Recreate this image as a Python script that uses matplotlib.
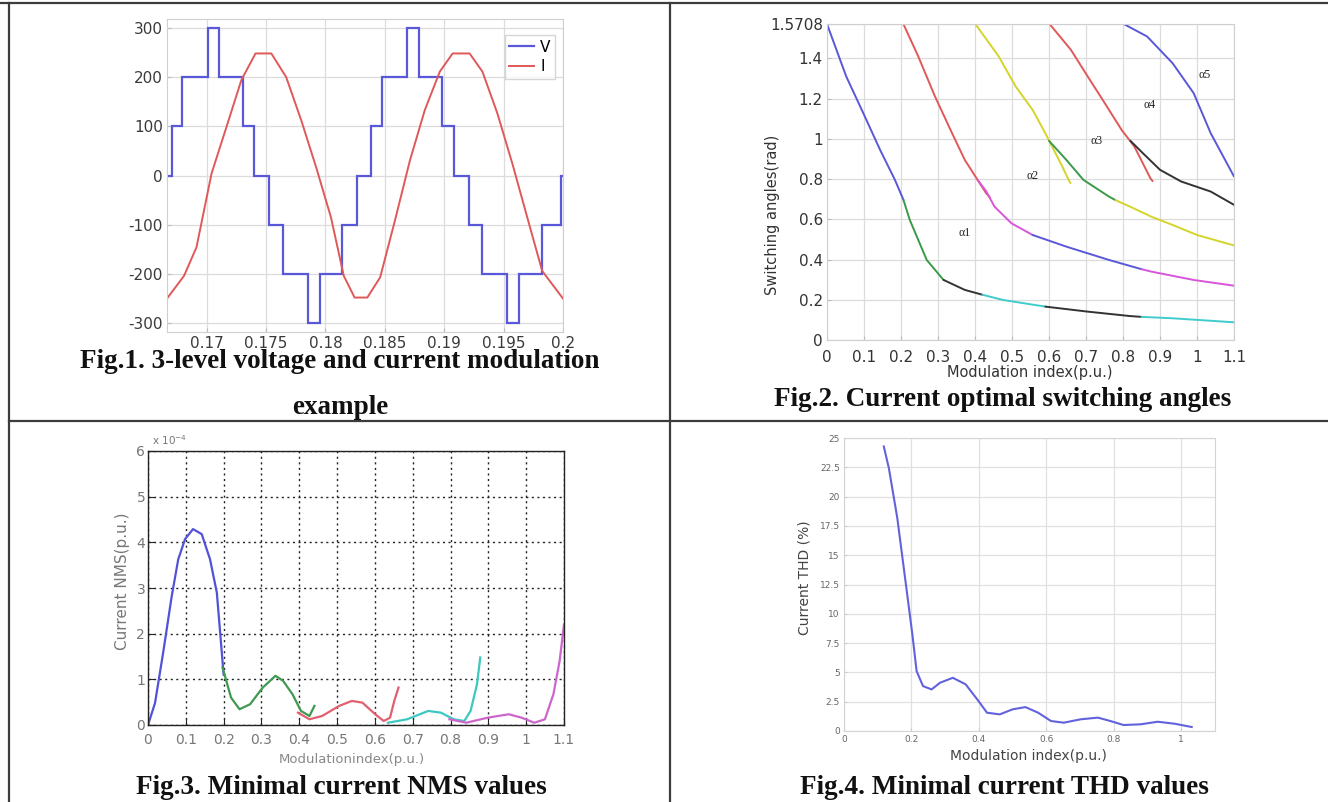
import numpy as np
import matplotlib
matplotlib.use("Agg")
import matplotlib.pyplot as plt
from matplotlib.lines import Line2D

plt.rcParams['axes.unicode_minus'] = False

# ---- Fig.1: staircase voltage and current ----
v_edges = [0.16667, 0.1671, 0.16797, 0.17008, 0.17107, 0.17304, 0.17401, 0.17527,
           0.17642, 0.17850, 0.17958, 0.18144, 0.18263, 0.18380, 0.18475, 0.18685,
           0.18785, 0.18978, 0.19085, 0.19205, 0.19315, 0.19525, 0.19628, 0.19825,
           0.19986, 0.2]
v_levels = [0, 100, 200, 300, 200, 100, 0, -100, -200, -300, -200, -100, 0,
            100, 200, 300, 200, 100, 0, -100, -200, -300, -200, -100, 0]
i_t = [0.16667, 0.1681, 0.16915, 0.17042, 0.17168, 0.17293, 0.17412, 0.17545,
       0.1767, 0.17797, 0.17922, 0.18047, 0.18155, 0.18246, 0.18353, 0.18461,
       0.18585, 0.18712, 0.18837, 0.18963, 0.19071, 0.19214, 0.19322, 0.19448,
       0.19574, 0.19699, 0.19825, 0.2]
i_val = [-250, -204, -146, 4, 99, 194, 248, 248, 200, 112, 17, -85, -204, -248,
         -248, -207, -92, 31, 133, 211, 248, 248, 211, 126, 24, -85, -194, -250]
fig1_xticks = [0.17, 0.175, 0.18, 0.185, 0.19, 0.195, 0.2]
fig1_xlabels = ['0.17', '0.175', '0.18', '0.185', '0.19', '0.195', '0.2']
fig1_yticks = [-300, -200, -100, 0, 100, 200, 300]

# ---- Fig.2: switching angles vs modulation index ----
a1_m = [0, 0.052, 0.098, 0.1435, 0.1836, 0.2065, 0.2237, 0.2466, 0.2695, 0.315,
        0.3725, 0.42, 0.4757, 0.59, 0.7046, 0.819, 0.85, 0.934, 1.1]
a1_a = [1.5708, 1.31, 1.128, 0.945, 0.796, 0.697, 0.597, 0.4975, 0.398, 0.2985,
        0.249, 0.225, 0.199, 0.166, 0.141, 0.119, 0.115, 0.108, 0.088]
a2_top_m = [0.2065, 0.2466, 0.292, 0.338, 0.3725, 0.407, 0.43, 0.44]
a2_top_a = [1.5708, 1.41, 1.21, 1.028, 0.895, 0.796, 0.73, 0.71]
a2_low_m = [0.407, 0.43, 0.4527, 0.4986, 0.5557, 0.647, 0.762, 0.85, 0.8765, 0.991, 1.1]
a2_low_a = [0.796, 0.74, 0.663, 0.58, 0.522, 0.464, 0.398, 0.352, 0.34, 0.2985, 0.27]
a3_top_m = [0.401, 0.464, 0.51, 0.5557, 0.59, 0.613, 0.636, 0.653, 0.658]
a3_top_a = [1.5708, 1.41, 1.26, 1.144, 1.028, 0.945, 0.862, 0.796, 0.78]
a3_low_m = [0.6, 0.647, 0.693, 0.762, 0.78, 0.819, 0.8765, 0.934, 1.0, 1.1]
a3_low_a = [0.99, 0.895, 0.796, 0.713, 0.695, 0.663, 0.613, 0.572, 0.522, 0.47]
a4_top_m = [0.6016, 0.659, 0.7046, 0.7505, 0.796, 0.8306, 0.8535, 0.874, 0.88]
a4_top_a = [1.5708, 1.443, 1.31, 1.178, 1.045, 0.962, 0.879, 0.804, 0.79]
a4_low_m = [0.82, 0.8535, 0.9, 0.957, 1.037, 1.1]
a4_low_a = [0.99, 0.929, 0.846, 0.788, 0.738, 0.672]
a5_m = [0.802, 0.865, 0.934, 0.991, 1.037, 1.1]
a5_a = [1.5708, 1.509, 1.376, 1.227, 1.028, 0.813]
alpha_names = ['\u03b11', '\u03b12', '\u03b13', '\u03b14', '\u03b15']
alpha_pos_m = [0.372, 0.556, 0.728, 0.871, 1.02]
alpha_pos_a = [0.531, 0.813, 0.987, 1.169, 1.318]
fig2_yticks = [0, 0.2, 0.4, 0.6, 0.8, 1, 1.2, 1.4, 1.5708]
fig2_ylabels = ['0', '0.2', '0.4', '0.6', '0.8', '1', '1.2', '1.4', '1.5708']
mod_ticks = [0, 0.1, 0.2, 0.3, 0.4, 0.5, 0.6, 0.7, 0.8, 0.9, 1, 1.1]
mod_labels = ['0', '0.1', '0.2', '0.3', '0.4', '0.5', '0.6', '0.7', '0.8', '0.9', '1', '1.1']

# ---- Fig.3: minimal current NMS (x 1e-4) ----
nms_blue_m = [0, 0.0185, 0.04, 0.0627, 0.08, 0.098, 0.119, 0.142, 0.164, 0.182, 0.192, 0.2]
nms_blue_v = [0, 0.48, 1.58, 2.82, 3.63, 4.07, 4.29, 4.18, 3.63, 2.9, 1.9, 1.1]
nms_green_m = [0.197, 0.2196, 0.242, 0.27, 0.3035, 0.337, 0.3572, 0.382, 0.4045, 0.427, 0.44]
nms_green_v = [1.26, 0.60, 0.345, 0.455, 0.82, 1.077, 0.967, 0.674, 0.308, 0.198, 0.418]
nms_red_m = [0.3965, 0.427, 0.4606, 0.5055, 0.539, 0.567, 0.6008, 0.6233, 0.64, 0.6512, 0.6624]
nms_red_v = [0.27, 0.125, 0.198, 0.418, 0.527, 0.49, 0.235, 0.088, 0.16, 0.527, 0.82]
nms_cyan_m = [0.6345, 0.685, 0.741, 0.7748, 0.8083, 0.8364, 0.853, 0.87, 0.8786]
nms_cyan_v = [0.05, 0.125, 0.308, 0.27, 0.125, 0.088, 0.308, 0.894, 1.48]
nms_mag_m = [0.797, 0.8417, 0.898, 0.954, 0.988, 1.0216, 1.0495, 1.072, 1.0886, 1.1]
nms_mag_v = [0.125, 0.05, 0.16, 0.235, 0.16, 0.05, 0.125, 0.674, 1.41, 2.2]
fig3_yticks = [0, 1, 2, 3, 4, 5, 6]

# ---- Fig.4: minimal current THD ----
thd_m = [0.118, 0.133, 0.158, 0.1836, 0.2027, 0.2153, 0.2343, 0.2597, 0.2848, 0.3227,
         0.3607, 0.3987, 0.424, 0.462, 0.5, 0.538, 0.5757, 0.6137, 0.6516, 0.7023,
         0.753, 0.79, 0.8287, 0.8793, 0.93, 0.9806, 1.031]
thd_v = [24.28, 22.43, 18.17, 12.5, 8.24, 5.11, 3.83, 3.55, 4.12, 4.54, 3.98, 2.56,
         1.56, 1.42, 1.85, 2.04, 1.56, 0.85, 0.71, 1.0, 1.14, 0.85, 0.51, 0.57, 0.79,
         0.62, 0.34]
fig4_yticks = [0, 2.5, 5, 7.5, 10, 12.5, 15, 17.5, 20, 22.5, 25]
fig4_ylabels = ['0', '2.5', '5', '7.5', '10', '12.5', '15', '17.5', '20', '22.5', '25']
fig4_xticks = [0, 0.2, 0.4, 0.6, 0.8, 1]
fig4_xlabels = ['0', '0.2', '0.4', '0.6', '0.8', '1']

captions = ['Fig.1. 3-level voltage and current modulation', 'example',
            'Fig.2. Current optimal switching angles',
            'Fig.3. Minimal current NMS values',
            'Fig.4. Minimal current THD values']

W, H = 1328, 802
fig = plt.figure(figsize=(W / 100, H / 100), dpi=100)
fig.patch.set_facecolor('white')


def add_ax(l, t, r, b):
    return fig.add_axes([l / W, 1 - b / H, (r - l) / W, (b - t) / H])


def ftext(x, y, s, **kw):
    fig.text(x / W, 1 - y / H, s, **kw)


def seg_plot(ax, m, a, pieces, lw):
    # draw one curve in several coloured pieces that share their end points
    m = np.asarray(m)
    a = np.asarray(a)
    for lo, hi, c in pieces:
        i0 = int(np.argmin(np.abs(m - lo)))
        i1 = int(np.argmin(np.abs(m - hi)))
        ax.plot(m[i0:i1 + 1], a[i0:i1 + 1], color=c, lw=lw, solid_capstyle='round')


# table lines
for x0, y0, x1, y1 in [(0, 3, W, 3), (9, 3, 9, H), (9, 421, W, 421), (670, 3, 670, H)]:
    fig.add_artist(Line2D([x0 / W, x1 / W], [1 - y0 / H, 1 - y1 / H],
                          transform=fig.transFigure, color='#3c3c3c', lw=1.6))

BLUE = '#5858d8'
RED = '#e05858'
GREEN = '#3a9a48'
BLACK = '#333333'
CYAN = '#40cccc'
MAG = '#d855d8'
YEL = '#d4d42a'

# ---------- Fig.1 ----------
ax1 = add_ax(167, 19, 563, 332)
ax1.stairs(v_levels, v_edges, baseline=None, color=BLUE, lw=1.6, label='V')
ax1.plot(i_t, i_val, color=RED, lw=1.4, label='I')
ax1.set_xlim(0.16667, 0.2)
ax1.set_ylim(-318, 318)
ax1.set_xticks(fig1_xticks)
ax1.set_xticklabels(fig1_xlabels)
ax1.set_yticks(fig1_yticks)
ax1.grid(True, color='#dcdcdc', lw=0.9)
ax1.set_axisbelow(True)
for s in ax1.spines.values():
    s.set_color('#cfcfcf')
ax1.tick_params(direction='in', length=3, color='#bbbbbb', labelsize=11,
                labelcolor='#3a3a3a', pad=3)
ax1.legend(loc='upper right', bbox_to_anchor=((555 - 167) / 396, 1 - (35 - 19) / 313),
           borderaxespad=0, fontsize=11, handlelength=1.6, handletextpad=0.4,
           labelspacing=0.3, borderpad=0.3, frameon=True, fancybox=False,
           edgecolor='#cccccc')

# ---------- Fig.2 ----------
ax2 = add_ax(827, 24, 1234, 340)
seg_plot(ax2, a1_m, a1_a, [(0, 0.2065, BLUE), (0.2065, 0.315, GREEN), (0.315, 0.42, BLACK),
                           (0.42, 0.59, CYAN), (0.59, 0.85, BLACK), (0.85, 1.1, CYAN)], 1.4)
seg_plot(ax2, a2_top_m, a2_top_a, [(0.2065, 0.44, RED)], 1.4)
seg_plot(ax2, a2_low_m, a2_low_a, [(0.407, 0.5557, MAG), (0.5557, 0.85, BLUE),
                                   (0.85, 1.1, MAG)], 1.4)
seg_plot(ax2, a3_top_m, a3_top_a, [(0.401, 0.658, YEL)], 1.4)
seg_plot(ax2, a3_low_m, a3_low_a, [(0.6, 0.78, GREEN), (0.78, 1.1, YEL)], 1.4)
seg_plot(ax2, a4_top_m, a4_top_a, [(0.6016, 0.88, RED)], 1.4)
seg_plot(ax2, a4_low_m, a4_low_a, [(0.82, 1.1, BLACK)], 1.4)
seg_plot(ax2, a5_m, a5_a, [(0.802, 1.1, BLUE)], 1.4)
for name, xm, ya in zip(alpha_names, alpha_pos_m, alpha_pos_a):
    ax2.text(xm, ya, name, fontsize=8.5, family=['Liberation Serif', 'DejaVu Serif'],
             color='#222222', ha='center', va='center')
ax2.set_xlim(0, 1.1)
ax2.set_ylim(0, 1.5708)
ax2.set_xticks(mod_ticks)
ax2.set_xticklabels(mod_labels)
ax2.set_yticks(fig2_yticks)
ax2.set_yticklabels(fig2_ylabels)
ax2.grid(True, color='#dcdcdc', lw=0.9)
ax2.set_axisbelow(True)
for s in ax2.spines.values():
    s.set_color('#cfcfcf')
ax2.tick_params(direction='in', length=3, color='#bbbbbb', labelsize=11,
                labelcolor='#333333')
ax2.tick_params(axis='x', pad=7)
ax2.tick_params(axis='y', pad=3)
ftext(1030, 372, 'Modulation index(p.u.)', fontsize=10.5, color='#333333',
      ha='center', va='center')
ftext(772, 215, 'Switching angles(rad)', fontsize=10.5, color='#333333',
      ha='center', va='center', rotation=90)

# ---------- Fig.3 ----------
ax3 = add_ax(148, 451, 564, 725)
ax3.plot(nms_blue_m, nms_blue_v, color='#5252d8', lw=1.6)
ax3.plot(nms_green_m, nms_green_v, color='#3e9a50', lw=1.6)
ax3.plot(nms_red_m, nms_red_v, color='#e06070', lw=1.6)
ax3.plot(nms_cyan_m, nms_cyan_v, color='#3cc8c0', lw=1.6)
ax3.plot(nms_mag_m, nms_mag_v, color='#cc66cc', lw=1.6)
ax3.set_xlim(0, 1.1)
ax3.set_ylim(0, 6)
ax3.set_xticks(mod_ticks)
ax3.set_xticklabels(mod_labels)
ax3.set_yticks(fig3_yticks)
ax3.grid(True, color='#222222', ls=(0, (1.5, 2.5)), lw=1.0)
for s in ax3.spines.values():
    s.set_color('#222222')
    s.set_linewidth(1.0)
ax3.tick_params(direction='in', length=4, color='#222222', labelsize=10,
                labelcolor='#777777')
ax3.tick_params(axis='x', pad=6)
ax3.tick_params(axis='y', pad=2)
ftext(152, 440, 'x 10$^{-4}$', fontsize=7.5, color='#777777', ha='left', va='center')
ftext(352, 759, 'Modulationindex(p.u.)', fontsize=9.5, color='#888888',
      ha='center', va='center')
ftext(123, 581, 'Current NMS(p.u.)', fontsize=11, color='#777777',
      ha='center', va='center', rotation=90)

# ---------- Fig.4 ----------
ax4 = add_ax(844, 438, 1215, 731)
ax4.plot(thd_m, thd_v, color='#6262dc', lw=1.5)
ax4.set_xlim(0, 1.1)
ax4.set_ylim(0, 25)
ax4.set_xticks(fig4_xticks)
ax4.set_xticklabels(fig4_xlabels)
ax4.set_yticks(fig4_yticks)
ax4.set_yticklabels(fig4_ylabels)
ax4.grid(True, color='#e0e0e0', lw=0.9)
ax4.set_axisbelow(True)
for s in ax4.spines.values():
    s.set_color('#d4d4d4')
ax4.tick_params(direction='in', length=2, color='#cccccc', labelsize=6.5,
                labelcolor='#666666', pad=3)
ftext(1028, 756, 'Modulation index(p.u.)', fontsize=10, color='#444444',
      ha='center', va='center')
ftext(804, 578, 'Current THD (%)', fontsize=10, color='#444444',
      ha='center', va='center', rotation=90)

# ---------- captions ----------
cap_kw = dict(fontsize=19.5, family='Liberation Serif', weight='bold',
              color='#111111', ha='center', va='center')
ftext(340, 362, captions[0], **cap_kw)
ftext(340, 408, captions[1], **cap_kw)
ftext(1003, 400, captions[2], **cap_kw)
ftext(341, 788, captions[3], **cap_kw)
ftext(1004, 788, captions[4], **cap_kw)

fig.savefig('out.png', dpi=100)
